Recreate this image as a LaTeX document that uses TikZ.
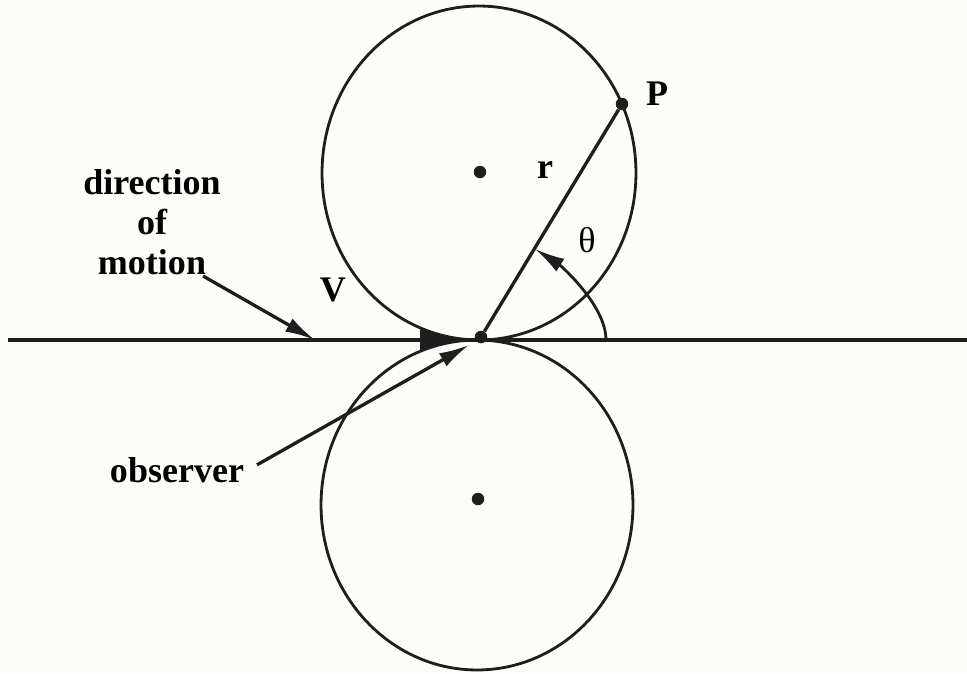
\documentclass[tikz,border=0pt]{standalone}
\usepackage{fontspec}
\setmainfont{Liberation Serif}
\usepackage{tikz}
\usetikzlibrary{arrows.meta,positioning}
\definecolor{paper}{RGB}{252,253,249}
\definecolor{ink}{RGB}{30,30,30}

\begin{document}
\begin{tikzpicture}[
    x=0.02cm, y=-0.02cm,
    lbl/.style={font=\fontsize{20.5}{22.8}\selectfont\bfseries, inner sep=2pt},
    dot/.style={circle, fill=ink, inner sep=0pt, minimum size=0.25cm},
    thin/.style={line width=1.6pt, draw=ink},
    thick line/.style={line width=1.9pt, draw=ink},
    arrow/.style={-{Latex[length=0.6cm, width=0.3cm]}, line width=1.9pt, draw=ink}
]
\fill[paper] (0,0) rectangle (967,673);
\useasboundingbox (0,0) rectangle (967,673);

\draw[thin] (479,173) ellipse [x radius=3.14cm, y radius=3.34cm];
\draw[thin] (477,505) ellipse [x radius=3.12cm, y radius=3.30cm];

\coordinate (lineL) at (8,340);
\coordinate (lineR) at (967,340);
\draw[thick line] (lineL) -- (lineR);

\node[dot] (ctrU) at (480,172) {};
\node[dot] (ctrL) at (478,499) {};
\node[dot] (contact) at (481,337) {};
\node[dot] (ptP) at (622,104) {};
\draw[thick line] (contact) -- (ptP);

\node[lbl] (plabel) at (657,94) {P};
\node[lbl] (rlabel) at (545,170) {r};
\node[font=\fontsize{20.5}{22.8}\selectfont] (thlabel) at (587,240) {θ};
\node[lbl] (vlabel) at (333,290) {V};
\node[lbl, align=center] (dirlabel) at (152,222) {direction\\of\\motion};
\node[lbl] (obslabel) at (177,470) {observer};

\coordinate (thstart) at (606,340);
\coordinate (thtip) at (535,249);
\draw[arrow, line width=1.6pt] (thstart) .. controls (606,305) and (560,265) .. (thtip);

\coordinate (motionend) at (203,276);
\coordinate (vpoint) at (315,340);
\draw[arrow] (motionend) -- (vpoint);

\coordinate (obstip) at (469,345);
\draw[arrow, shorten <=6pt] (obslabel.east) -- (obstip);

\coordinate (vtail) at (400,340);
\coordinate (vtip) at (462,340);
\draw[arrow, -{Latex[length=0.84cm, width=0.44cm]}] (vtail) -- (vtip);
\end{tikzpicture}
\end{document}
